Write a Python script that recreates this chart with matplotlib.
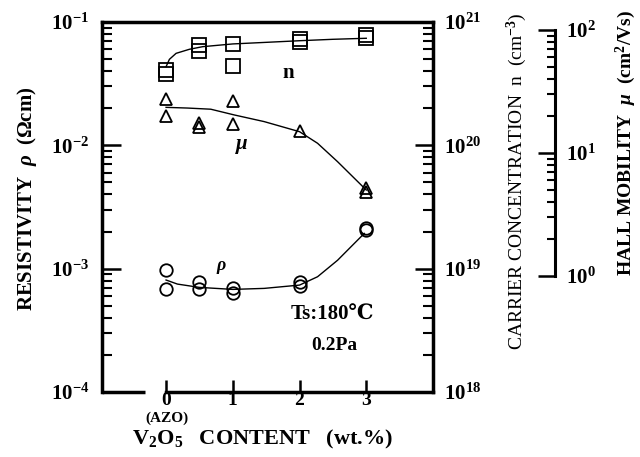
import numpy as np
import matplotlib
matplotlib.use('Agg')
import matplotlib.pyplot as plt
from matplotlib import ticker

plt.rcParams['font.family'] = ['Liberation Serif', 'DejaVu Serif']
plt.rcParams['font.weight'] = 'bold'
plt.rcParams['mathtext.fontset'] = 'custom'
plt.rcParams['mathtext.rm'] = 'Liberation Serif:bold'
plt.rcParams['mathtext.bf'] = 'Liberation Serif:bold'
plt.rcParams['mathtext.it'] = 'Liberation Serif:italic'

x_rho = [0, 0, 0.5, 0.5, 1, 1, 2, 2, 3, 3]
rho = [9.75e-4, 6.8e-4, 7.8e-4, 6.9e-4, 7.0e-4, 6.4e-4, 7.8e-4, 7.2e-4, 2.12e-3, 2.05e-3]
x_n = [0, 0, 0.5, 0.5, 1, 1, 2, 2, 3, 3]
n_vals = [4.08e20, 3.79e20, 6.5e20, 5.8e20, 6.6e20, 4.4e20, 7.3e20, 6.9e20, 7.9e20, 7.4e20]
x_mu = [0, 0, 0.5, 0.5, 1, 1, 2, 3, 3]
mu = [27.5, 20.0, 17.5, 16.3, 26.5, 17.2, 15.1, 5.2, 4.8]

# hand-drawn guide curves
xc_rho = [0.0, 0.17, 0.5, 1.0, 1.47, 2.0, 2.27, 2.57, 2.82, 2.97]
c_rho = [8.09e-4, 7.5e-4, 7.05e-4, 6.79e-4, 6.92e-4, 7.36e-4, 8.6e-4, 1.17e-3, 1.60e-3, 1.93e-3]
xc_n = [0.0, 0.05, 0.15, 0.35, 0.55, 1.0, 1.5, 2.0, 2.5, 3.0]
c_n = [4.34e20, 4.98e20, 5.57e20, 6.01e20, 6.31e20, 6.64e20, 6.84e20, 7.05e20, 7.24e20, 7.38e20]
xc_mu = [0.0, 0.32, 0.67, 1.02, 1.47, 2.0, 2.27, 2.57, 2.8, 3.0]
c_mu = [23.5, 23.2, 22.7, 20.4, 18.0, 14.9, 12.0, 8.5, 6.4, 5.0]

xticks = [0, 1, 2, 3]

W, H = 640, 457
L, R, T, B = 102, 433, 22, 392
MU_X, MU_T, MU_B = 555, 30, 276

def fx(px):
    return px / W

def fy(py):
    return 1 - py / H

fig = plt.figure(figsize=(6.4, 4.57), dpi=100)
ax = fig.add_axes([fx(L), fy(B), (R - L) / W, (B - T) / H])
ax.set_yscale('log')
ax.set_ylim(1e-4, 1e-1)
ax.set_xlim(-0.96, 4.0)
ax.set_xticks(xticks)
ax.spines['right'].set_visible(False)
for s in ['left', 'top', 'bottom']:
    ax.spines[s].set_linewidth(2.5)
ax.spines['bottom'].set_bounds(0, 4)
ax.plot([-0.96, -0.32], [0, 0], transform=ax.get_xaxis_transform(), color='k',
        lw=2.5, clip_on=False, solid_capstyle='butt')
ax.tick_params(axis='x', direction='in', length=9, width=1.8, pad=0, labelsize=14)
ax.tick_params(axis='y', which='major', direction='in', length=14, width=1.8, pad=9, labelsize=15)
ax.tick_params(axis='y', which='minor', direction='in', length=7, width=1.5)
ax.yaxis.set_minor_formatter(ticker.NullFormatter())

ax.plot(xc_rho, c_rho, 'k-', lw=1)
ax.plot(x_rho, rho, 'o', mfc='none', mec='k', ms=9, mew=1.3)

# carrier concentration axis
ax2 = ax.twinx()
ax2.set_yscale('log')
ax2.set_ylim(1e18, 1e21)
for s in ['left', 'top', 'bottom']:
    ax2.spines[s].set_visible(False)
ax2.spines['right'].set_linewidth(2.5)
ax2.tick_params(axis='y', which='major', direction='in', length=13, width=1.8, pad=8, labelsize=15)
ax2.tick_params(axis='y', which='minor', direction='in', length=7, width=1.5)
ax2.yaxis.set_minor_formatter(ticker.NullFormatter())
ax2.plot(xc_n, c_n, 'k-', lw=1)
ax2.plot(x_n, n_vals, 's', mfc='none', mec='k', ms=10, mew=1.3)

# hall mobility axis
ax3 = fig.add_axes([fx(L), fy(MU_B), (R - L) / W, (MU_B - MU_T) / H])
ax3.patch.set_visible(False)
ax3.set_yscale('log')
ax3.set_ylim(1, 100)
ax3.set_xlim(ax.get_xlim())
ax3.xaxis.set_visible(False)
for s in ['left', 'top', 'bottom']:
    ax3.spines[s].set_visible(False)
ax3.spines['right'].set_position(('axes', (MU_X - L) / (R - L)))
ax3.spines['right'].set_linewidth(2.2)
ax3.yaxis.tick_right()
ax3.tick_params(axis='y', which='major', direction='in', length=12, width=1.8, pad=8, labelsize=15)
ax3.tick_params(axis='y', which='minor', direction='in', length=6, width=1.5)
ax3.yaxis.set_minor_formatter(ticker.NullFormatter())
ax3.plot(xc_mu, c_mu, 'k-', lw=1, clip_on=False)
ax3.plot(x_mu, mu, '^', mfc='none', mec='k', ms=9, mew=1.3, clip_on=False)

# labels
fig.text(fx(27), fy(199), r'RESISTIVITY  $\rho$  ($\Omega$cm)', rotation=90,
         ha='center', va='center', fontsize=15)
fig.text(fx(517), fy(181), r'CARRIER CONCENTRATION  n  (cm$^{-3}$)', rotation=90,
         ha='center', va='center', fontsize=14, weight='normal')
fig.text(fx(626), fy(143), r'HALL MOBILITY  $\mu$  (cm$^{2}$/Vs)', rotation=90,
         ha='center', va='center', fontsize=14)
fig.text(fx(262), fy(439), r'V$_2$O$_5$   CONTENT   (wt.%)', ha='center', va='center', fontsize=16)
fig.text(fx(167), fy(418), '(AZO)', ha='center', va='center', fontsize=11)

fig.text(fx(288), fy(73), 'n', ha='center', va='center', fontsize=15)
fig.text(fx(242), fy(146), r'$\mu$', ha='center', va='center', fontsize=15)
fig.text(fx(222), fy(267), r'$\rho$', ha='center', va='center', fontsize=13)
fig.text(fx(332), fy(315), 'Ts:180℃', ha='center', va='center', fontsize=15)
fig.text(fx(334), fy(345), '0.2Pa', ha='center', va='center', fontsize=14)

fig.savefig('out.png', dpi=100)
